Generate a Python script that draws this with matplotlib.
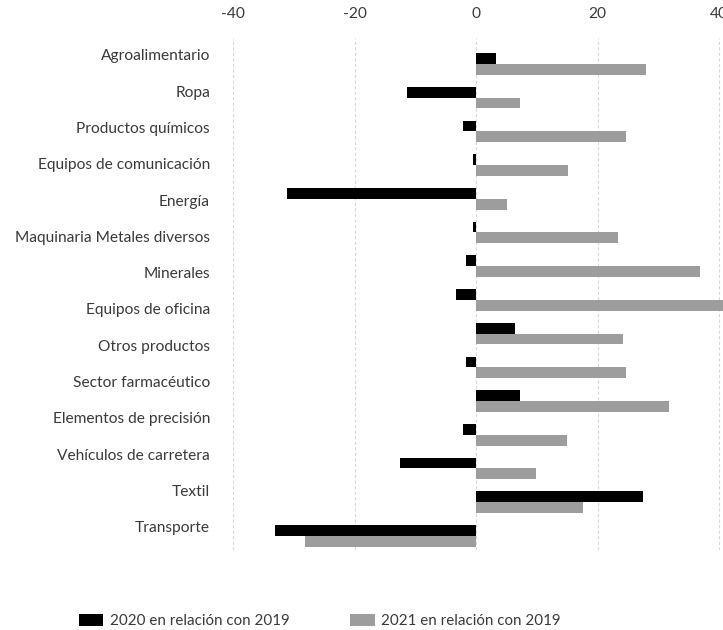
import numpy as np
import matplotlib
matplotlib.use('Agg')
import matplotlib.pyplot as plt
from matplotlib.patches import Patch

# Sector labels (14 labels spread over the 15 bar groups)
labels = ['Agroalimentario', 'Ropa', 'Productos químicos', 'Equipos de comunicación',
          'Energía', 'Maquinaria Metales diversos', 'Minerales', 'Equipos de oficina',
          'Otros productos', 'Sector farmacéutico', 'Elementos de precisión',
          'Vehículos de carretera', 'Textil', 'Transporte']

# % change with respect to 2019
vals_2020 = [3.25, -11.3, -2.2, -0.5, -31.1, -0.5, -1.7, -3.35,
             6.4, -1.7, 7.2, -2.2, -12.45, 27.5, -33.1]
vals_2021 = [27.9, 7.2, 24.7, 15.15, 5.1, 23.25, 36.8, 41.0,
             24.1, 24.6, 31.7, 15.0, 9.85, 17.6, -28.15]

xticks = [-40, -20, 0, 20, 40]

plt.rcParams['font.family'] = ['Lato', 'DejaVu Sans']
text_color = '#3a3a3a'
fs = 11.2

fig = plt.figure(figsize=(7.23, 6.30), dpi=100, facecolor='white')
# axes in pixel terms: left 233, right 723, top 38, bottom 550
ax = fig.add_axes([233 / 723, 1 - 550 / 630, (723 - 233) / 723, (550 - 38) / 630])

pos = np.arange(len(vals_2020))
h = 0.32
ax.barh(pos - h / 2, vals_2020, height=h, color='#000000', zorder=3)
ax.barh(pos + h / 2, vals_2021, height=h, color='#9d9d9d', zorder=3)

ax.set_xlim(-40, 40.6)
ax.set_ylim(14.42, -0.77)

ax.xaxis.tick_top()
ax.set_xticks(xticks)
ax.set_xticklabels([str(t) for t in xticks])
ax.tick_params(axis='x', length=0, pad=12, labelsize=fs, labelcolor=text_color)

ax.set_yticks(np.linspace(-0.27, 13.73, len(labels)))
ax.set_yticklabels(labels)
ax.tick_params(axis='y', length=0, pad=16.5, labelsize=fs, labelcolor=text_color)

ax.grid(axis='x', color='#d9d9d9', linestyle=(0, (3, 2)), linewidth=0.8, zorder=0)
ax.grid(axis='y', visible=False)
for s in ax.spines.values():
    s.set_visible(False)

handles = [Patch(facecolor='#000000', label='2020 en relación con 2019'),
           Patch(facecolor='#9d9d9d', label='2021 en relación con 2019')]
leg = fig.legend(handles=handles, loc='center', bbox_to_anchor=(320 / 723, 1 - 621 / 630),
                 ncol=2, frameon=False, fontsize=10.9, handlelength=1.6, handleheight=0.8,
                 handletextpad=0.45, columnspacing=4.0)
for t in leg.get_texts():
    t.set_color(text_color)

fig.savefig('out.png', dpi=100, facecolor='white')
